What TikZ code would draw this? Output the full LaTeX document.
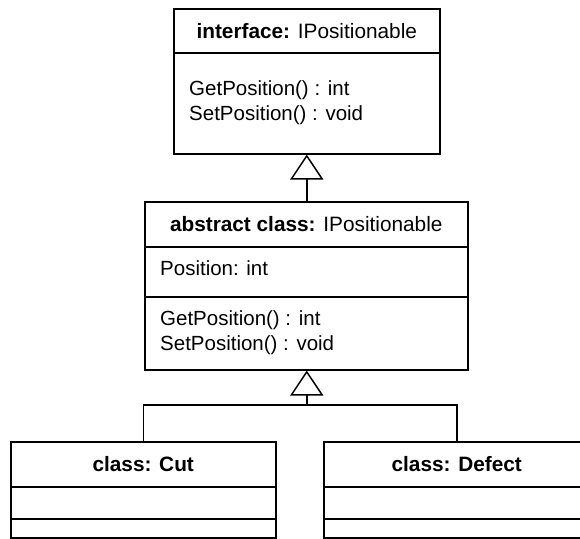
\documentclass[tikz,border=0pt]{standalone}
\usepackage{fontspec}
\setmainfont{Liberation Sans}
\usetikzlibrary{arrows.meta,positioning,calc}

\begin{document}
\begin{tikzpicture}[x=1pt, y=-1pt,
    umlbox/.style={draw, line width=1.5pt, anchor=north west, inner sep=0pt},
    umltitle/.style={font=\fontsize{20.8}{25}\selectfont, inner sep=0pt, anchor=center},
    umlmember/.style={font=\fontsize{20.5}{25}\selectfont, inner sep=0pt, anchor=base west},
    inherit/.style={-{Triangle[open, width=33pt, length=25pt]}, line width=1.5pt},
    link/.style={line width=1.5pt}]

    % Page
    \useasboundingbox (0,0) rectangle (580,538);
    \clip (0,0) rectangle (580,538);

    % --- Interface ---
    \node[umlbox, minimum width=266pt, minimum height=145pt] (iface) at (173,8) {};
    \draw[line width=1.5pt] ($(iface.north west)+(0,45)$) -- ($(iface.north east)+(0,45)$);
    \node[umltitle] (ifaceTitle) at ($(iface.north)+(0,23)$) {\textbf{interface:} IPositionable};
    \node[umlmember] (ifaceGet) at (189,95) {GetPosition() : int};
    \node[umlmember] (ifaceSet) at (189,120) {SetPosition() : void};

    % --- Abstract class ---
    \node[umlbox, minimum width=323pt, minimum height=168pt] (absc) at (144,201) {};
    \draw[line width=1.5pt] ($(absc.north west)+(0,46)$) -- ($(absc.north east)+(0,46)$);
    \draw[line width=1.5pt] ($(absc.north west)+(0,96)$) -- ($(absc.north east)+(0,96)$);
    \node[umltitle] (abscTitle) at ($(absc.north)+(0,23)$) {\textbf{abstract class:} IPositionable};
    \node[umlmember] (abscPos) at (160,275) {Position: int};
    \node[umlmember] (abscGet) at (160,325) {GetPosition() : int};
    \node[umlmember] (abscSet) at (160,350) {SetPosition() : void};

    % --- Classes ---
    \node[umlbox, minimum width=265pt, minimum height=96pt] (cut) at (10,441) {};
    \draw[line width=1.5pt] ($(cut.north west)+(0,46)$) -- ($(cut.north east)+(0,46)$);
    \draw[line width=1.5pt] ($(cut.north west)+(0,78)$) -- ($(cut.north east)+(0,78)$);
    \node[umltitle] (cutTitle) at ($(cut.north)+(0,23)$) {\textbf{class: Cut}};

    \node[umlbox, minimum width=266pt, minimum height=96pt] (defect) at (323,441) {};
    \draw[line width=1.5pt] ($(defect.north west)+(0,46)$) -- ($(defect.north east)+(0,46)$);
    \draw[line width=1.5pt] ($(defect.north west)+(0,78)$) -- ($(defect.north east)+(0,78)$);
    \node[umltitle] (defectTitle) at ($(defect.north)+(0,23)$) {\textbf{class: Defect}};

    % Inheritance
    \draw[inherit] (absc.north -| iface.south) -- (iface.south);
    \coordinate (join) at (iface.south |- 0,405);
    \draw[link] (cut.north) |- (join) -| (defect.north);
    \draw[inherit] (join) -- (join |- absc.south);

\end{tikzpicture}
\end{document}
